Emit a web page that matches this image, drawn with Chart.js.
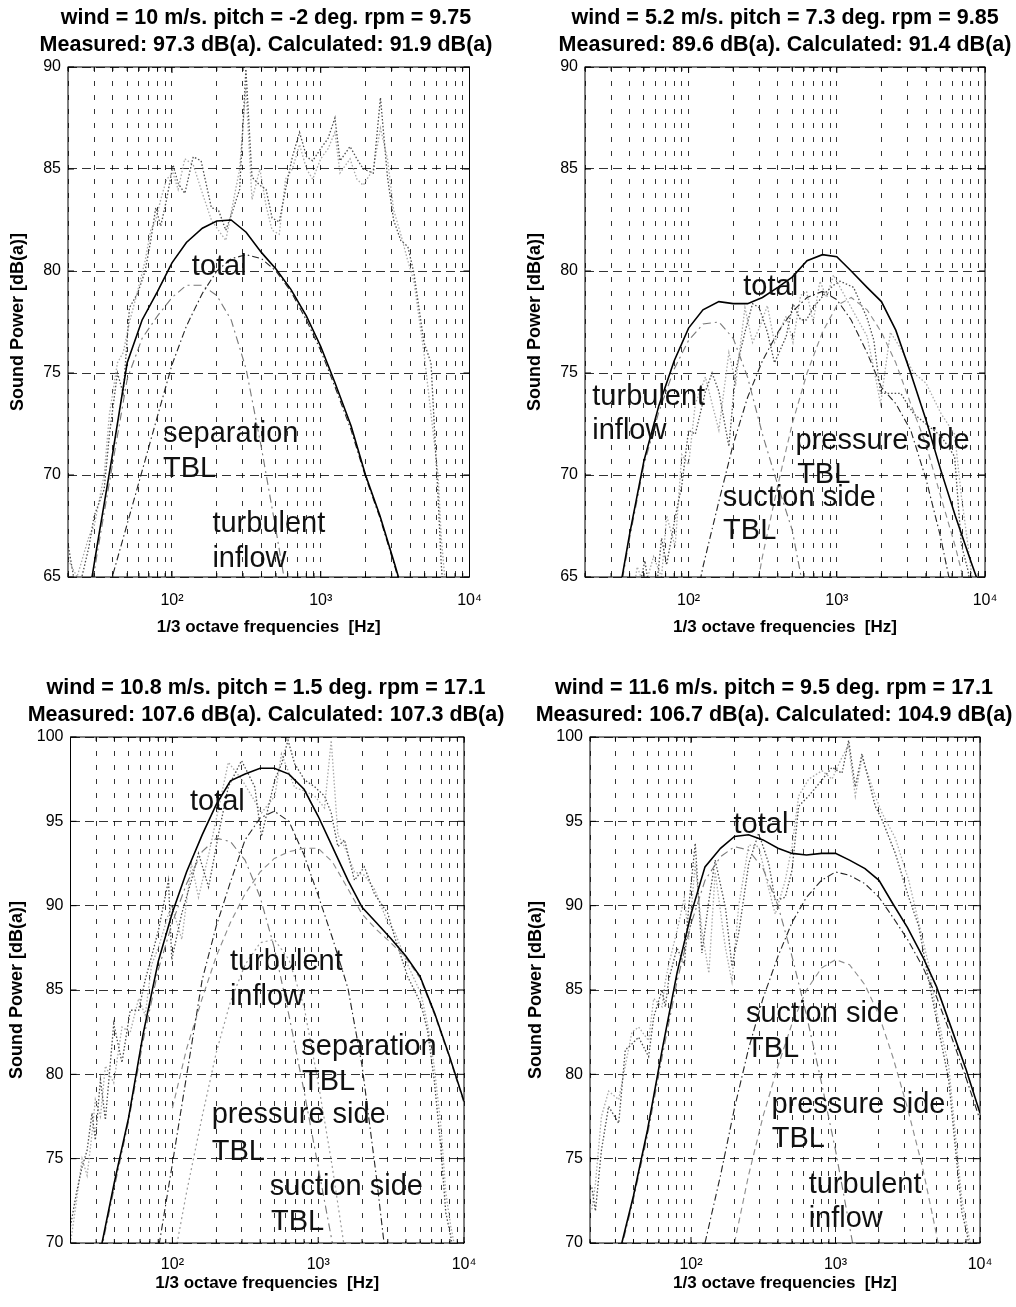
<!DOCTYPE html>
<html><head><meta charset="utf-8">
<script src="https://cdn.jsdelivr.net/npm/chart.js@4.4.1/dist/chart.umd.min.js"></script>
<style>
html,body{margin:0;padding:0;background:#fff;overflow:hidden;width:1016px;height:1307px;position:relative}
canvas{position:absolute}
</style></head><body>
<canvas id="c0"></canvas><canvas id="c1"></canvas><canvas id="c2"></canvas><canvas id="c3"></canvas>
<script>
// ---------- shared axis values ----------
const freqs = [20,25,31.5,40,50,63,80,100,125,160,200,250,315,400,500,630,800,1000,1250,1600,2000,2500,3150,4000,5000,6300,8000,10000];
const xGridValues = [20,30,40,50,60,70,80,90,100,200,300,400,500,600,700,800,900,1000,2000,3000,4000,5000,6000,7000,8000,9000,10000];
const xTickLabels = {100:'10²',1000:'10³',10000:'10⁴'};

// ---------- panel 1: wind 10 m/s ----------
const tlTotal      = [57.7,62.1,66.6,71.1,75.5,77.6,79.0,80.4,81.4,82.1,82.45,82.5,81.9,80.9,80.1,79.1,77.8,76.3,74.5,72.4,70.0,68.0,65.6,63.0,60.5,58,null,null];
const tlSeparation = [null,null,62.4,65.1,67.6,70.2,72.9,75.4,77.3,78.9,80.0,80.6,80.8,80.6,80.0,79.0,77.6,76.1,74.3,72.2,69.9,67.9,65.5,62.8,60.2,null,null,null];
const tlInflow     = [57,61.6,66.2,70.6,74.7,76.7,77.8,78.7,79.3,79.3,78.8,77.6,75.2,71.3,67.3,63.0,58.5,null,null,null,null,null,null,null,null,null,null,null];
const tlMeasFreq = [19.6,23,27.7,30,35,38,43,47,51.8,58.7,66,72,77.8,84,92,101.6,110,122,139,157,184,205,230,252,285,314,345,390,429,471,526,580,645,720,803,883,1000,1120,1246,1347,1574,1750,1930,2258,2520,2810,3090,3450,3850,4230,4940,5510,6150,6450,7000];
const tlMeasA = [67,64,66.5,68,69.3,72,75,74,78.2,78.9,80,81.5,83.1,82.2,83.5,85.2,84.3,83.8,85.6,85.4,83.1,83.0,82.0,82.8,84,89.9,84.6,84.2,84.0,82.6,82.4,84,85.6,86.8,85.6,85.4,86,86.5,87.5,85.4,86.1,85.5,85,84.8,88.5,84.6,82.5,81.5,81.2,79.9,76.5,75.5,68.9,65.7,62];
const tlMeasB = [66,65,67,67.5,70,73,75.5,76,77.5,79,80.5,82,82.5,83.5,84.5,84.8,84,85.5,85.2,84,82.5,82,81.5,83,85,89,83.5,85,83.2,82,81.8,84.5,85,86.2,85,84.5,85.5,86,86.8,84.8,85.5,84.5,84.2,85,87,85.5,83,81.8,80.5,79.5,76,73,70,67,64];

// ---------- panel 2: wind 5.2 m/s ----------
const trTotal    = [54.7,58.7,62.8,67.1,70.7,73.4,75.6,77.2,78.1,78.5,78.4,78.4,78.7,79.2,79.7,80.5,80.8,80.7,80.0,79.2,78.5,77.1,75.0,72.7,70.3,68.0,65.8,63.8];
const trInflow   = [54.5,58.5,62.6,66.9,70.5,73.1,75.2,76.6,77.4,77.5,76.7,74.8,72.0,69.5,67.3,63.5,59,null,null,null,null,null,null,null,null,null,null,null];
const trSuction  = [null,null,null,null,null,null,null,62,65.5,68.7,71.5,73.8,75.6,77.0,78.0,78.7,79.0,78.6,77.6,76.0,74.3,73.5,72.2,69.8,67.0,63.5,60,null];
const trPressure = [null,null,null,null,null,null,null,null,null,null,null,62,66,69.5,72.5,75,77,78.3,78.7,78.1,77.0,75.5,73.5,71.5,69.0,66.5,63.5,60];
const trMeasFreq = [40,45,50.7,58,65.7,71.1,81.1,90,100,111,130,144,160,187,208,240,270,300,340,380,456,506,570,625,692,770,855,950,1052,1297,1600,1778,1974,2300,2702,3300,4000,5060,6240,6920,7690,8500];
const trMeasA = [62,64,65.8,63,66.9,65.6,67.9,69.5,72.2,72.0,74.1,75.0,74.1,71.4,75.1,77.0,78.4,78.2,77.0,75.5,76.8,78.4,77.6,77.6,78.2,78.6,79.0,79.3,79.5,79.2,77.7,76.6,74.0,74.0,74.0,73.0,72.5,71.9,70.9,66.6,65.3,63];
const trMeasB = [63,65.5,64.5,66,65,68,66.5,71,70.5,73.5,74.8,73.5,72.2,76.0,74.5,78.2,76.5,77.2,78.3,76.5,77.8,76.5,78.8,79.0,77.5,79.5,78.7,79.8,79.2,78.0,76.8,75.2,73.5,77.0,76.2,75.0,74.5,73.0,72.0,69.0,66.5,64.0];

// ---------- panel 3: wind 10.8 m/s ----------
const blTotal      = [60.5,64.8,69.2,73.6,77.4,82.4,86.7,89.6,92.0,94.2,96.0,97.4,97.8,98.15,98.15,97.8,96.9,95.3,93.5,91.5,89.9,89.0,88.05,87.0,85.8,83.6,81.0,78.4];
const blSeparation = [null,null,null,null,58,63.8,69.6,74.7,79.9,85.6,88.8,91.4,93.9,95.2,95.6,95.0,93.0,90.6,88.1,85.1,80.5,74.0,66.5,58,null,null,null,null];
const blInflow     = [60,64.5,69,73.3,77.2,82.0,86.2,89.0,91.3,93.2,94.0,93.8,92.7,90.5,87.5,83.5,79.0,74.5,70,65,null,null,null,null,null,null,null,null];
const blPressure   = [null,null,null,null,null,null,null,78,81.5,84.5,87,89,90.7,92,92.8,93.2,93.4,93.4,92.6,91.0,89.5,88.6,87.8,86.9,85.7,83.5,80.9,78.3];
const blSuction    = [null,null,null,null,null,null,null,68.5,73,77.5,81.3,84.3,86.5,87.8,88.0,86.8,84.0,79.5,74.5,68.3,62,null,null,null,null,null,null,null];
const blMeasFreq = [20,22,24,26,28.1,29.6,32.1,34.7,39.6,45.1,51.4,58.7,65.1,72,80,94,99,116,135,151,177,210,242,298,367,408,504,560,621,690,808,945,1105,1228,1365,1515,1774,2075,2428,2999,3327,4106,5060,5620,6240,6930,7500,8110,9000];
const blMeasA = [71,73,74.5,75.5,77.7,76.1,79.7,77.3,83.0,80.7,83.8,83.8,85.6,87,88.5,91.5,86.8,89.55,91.5,93.1,91.1,94.5,97.05,98.6,97.05,94.1,97.45,98.4,99.8,98.4,97.45,97.05,96.5,95.5,93.5,93.9,91.5,92.3,90.7,89.55,88.2,85.8,84.2,82.6,79.7,75.7,71.8,70.4,68];
const blMeasB = [70,72.5,75,74,76.5,78.5,77.5,80.5,79.5,82.8,82.5,84.5,83.5,86.5,87.5,89.5,90,88,92.5,90.5,93,96,98.5,97.5,96.2,95.5,96.5,99.0,98.0,97.0,96.8,96.5,95.8,99.8,94.2,93.5,92.0,91.8,91.0,89.0,88.5,86.5,84.8,83,80.5,77,73,71,69];

// ---------- panel 4: wind 11.6 m/s ----------
const brTotal    = [62.2,65.6,69.2,72.8,76.7,81.4,86.0,89.5,92.3,93.4,94.1,94.2,93.9,93.4,93.1,93.0,93.1,93.1,92.7,92.2,91.5,90.1,88.7,87.0,85.2,82.8,80.3,77.7];
const brInflow   = [62,65.5,69,72.6,76.4,81.0,85.5,88.9,91.5,92.9,93.5,93.3,92.2,90.0,87.0,83.5,79.5,75.5,71,66,null,null,null,null,null,null,null,null];
const brSuction  = [null,null,null,null,null,null,null,null,70,74,78,81.5,84.5,87,89,90.5,91.5,92,91.8,91.3,90.5,89.3,88,86.4,84.6,82.3,79.8,77.3];
const brPressure = [null,null,null,null,null,null,null,null,null,null,70,74,77.5,80.5,83,85,86.3,86.8,86.5,85.3,83.5,81,78,74.5,70.5,66,null,null];
const brMeasFreq = [20.6,21.8,24,26.9,31.6,35.1,39,43.4,50.9,55.2,63,66.4,70.1,80,90,96.4,107,119,133,147,173,192,214,251,294,345,383,449,500,556,652,806,946,1109,1233,1371,1525,1884,2097,2594,3211,3764,4414,4908,6071,6745,7502,8123,9000];
const brMeasA = [73.3,71.9,75.5,78.1,77.1,81.45,81.8,82.2,81.05,83.4,85.0,84.0,85.6,87.5,86.5,89.9,93.7,87.2,90.3,92.7,89.9,86.4,88.4,92.5,94.3,92.5,90.3,90.5,92.1,95.9,96.5,97.45,98.2,97.85,99.8,97.05,99.0,95.9,95.1,93.1,90.5,88.8,85.6,83.6,79.7,75.7,71.8,70.6,68];
const brMeasB = [72,73.5,77.5,79,78.5,80.5,82.5,82.8,82,84.5,84,85.5,86.5,88.5,90.5,88,92.5,88.5,86,92,87.5,85.5,90,93.6,93.5,91,89.5,91.5,93.5,96.5,97.5,98,97.5,98.8,99.5,96.5,98.8,96.5,95.5,94,91.5,89,86.5,84,80.5,76.5,72.5,71,69];

// ---------- styles ----------
const FONT = '"Liberation Sans", Arial, Helvetica, sans-serif';
const STY = {
  total:   {color:'#000', width:1.6, dash:[]},
  dashdot: {color:'#222', width:1.1, dash:[7,3,1.5,3]},
  inflow:  {color:'#777', width:1.1, dash:[8,4,2,4]},
  dashed:  {color:'#8a8a8a', width:1.1, dash:[6,4]},
  dotted:  {color:'#9a9a9a', width:1.2, dash:[2,3]},
  measA:   {color:'#4a4a4a', width:1.3, dash:[1.5,2]},
  measB:   {color:'#a8a8a8', width:1.3, dash:[1.5,2]}
};
function ds(label, xs, ys, s) {
  const pts = [];
  xs.forEach((f, i) => { if (ys[i] !== null && ys[i] !== undefined) pts.push({x: f, y: ys[i]}); });
  return {label, data: pts, borderColor: STY[s].color, borderWidth: STY[s].width, borderDash: STY[s].dash,
          pointRadius: 0, fill: false, tension: 0, spanGaps: false, yAxisID: 'y'};
}

const panels = [
  { id:'c0', title:['wind = 10 m/s. pitch = -2 deg. rpm = 9.75','Measured: 97.3 dB(a). Calculated: 91.9 dB(a)'],
    ymin:65, ymax:90,
    geo:{cLeft:0, cTop:0, cH:653, aL:68, aR:469.5, aT:67, aB:577, t1:18, tCX:266, yTitleX:18, xTitleY:627, xPad:14},
    datasets:[
      ds('total', freqs, tlTotal, 'total'),
      ds('separation TBL', freqs, tlSeparation, 'dashdot'),
      ds('turbulent inflow', freqs, tlInflow, 'inflow'),
      ds('measured 1', tlMeasFreq, tlMeasA, 'measA'),
      ds('measured 2', tlMeasFreq, tlMeasB, 'measB')],
    labels:[{text:'total', f:136, v:79.8},{text:'separation', f:87, v:71.6},{text:'TBL', f:87, v:69.9},
            {text:'turbulent', f:187, v:67.2},{text:'inflow', f:187, v:65.5}] },
  { id:'c1', title:['wind = 5.2 m/s. pitch = 7.3 deg. rpm = 9.85','Measured: 89.6 dB(a). Calculated: 91.4 dB(a)'],
    ymin:65, ymax:90,
    geo:{cLeft:516, cTop:0, cH:653, aL:585, aR:985, aT:67, aB:577, t1:18, tCX:785, yTitleX:535, xTitleY:627, xPad:14},
    datasets:[
      ds('total', freqs, trTotal, 'total'),
      ds('suction side TBL', freqs, trSuction, 'dashdot'),
      ds('pressure side TBL', freqs, trPressure, 'dashed'),
      ds('turbulent inflow', freqs, trInflow, 'inflow'),
      ds('measured 1', trMeasFreq, trMeasA, 'measA'),
      ds('measured 2', trMeasFreq, trMeasB, 'measB')],
    labels:[{text:'total', f:234, v:78.8},{text:'turbulent', f:22.4, v:73.45},{text:'inflow', f:22.4, v:71.76},
            {text:'pressure side', f:527, v:71.27},{text:'TBL', f:540, v:69.63},
            {text:'suction side', f:170, v:68.49},{text:'TBL', f:171, v:66.85}] },
  { id:'c2', title:['wind = 10.8 m/s. pitch = 1.5 deg. rpm = 17.1','Measured: 107.6 dB(a). Calculated: 107.3 dB(a)'],
    ymin:70, ymax:100,
    geo:{cLeft:0, cTop:653, cH:654, aL:70.5, aR:464, aT:737, aB:1243, t1:688, tCX:266, yTitleX:17, xTitleY:1283, xPad:12},
    datasets:[
      ds('total', freqs, blTotal, 'total'),
      ds('separation TBL', freqs, blSeparation, 'dashdot'),
      ds('turbulent inflow', freqs, blInflow, 'inflow'),
      ds('pressure side TBL', freqs, blPressure, 'dashed'),
      ds('suction side TBL', freqs, blSuction, 'dotted'),
      ds('measured 1', blMeasFreq, blMeasA, 'measA'),
      ds('measured 2', blMeasFreq, blMeasB, 'measB')],
    labels:[{text:'total', f:132, v:95.67},{text:'turbulent', f:248, v:86.19},{text:'inflow', f:248, v:84.1},
            {text:'separation', f:766, v:81.15},{text:'TBL', f:775, v:79.07},
            {text:'pressure side', f:186, v:77.1},{text:'TBL', f:186, v:74.93},
            {text:'suction side', f:466, v:72.85},{text:'TBL', f:475, v:70.78}] },
  { id:'c3', title:['wind = 11.6 m/s. pitch = 9.5 deg. rpm = 17.1','Measured: 106.7 dB(a). Calculated: 104.9 dB(a)'],
    ymin:70, ymax:100,
    geo:{cLeft:520, cTop:653, cH:654, aL:590, aR:980, aT:737, aB:1243, t1:688, tCX:774, yTitleX:536, xTitleY:1283, xPad:12},
    datasets:[
      ds('total', freqs, brTotal, 'total'),
      ds('suction side TBL', freqs, brSuction, 'dashdot'),
      ds('pressure side TBL', freqs, brPressure, 'dashed'),
      ds('turbulent inflow', freqs, brInflow, 'inflow'),
      ds('measured 1', brMeasFreq, brMeasA, 'measA'),
      ds('measured 2', brMeasFreq, brMeasB, 'measB')],
    labels:[{text:'total', f:197, v:94.29},{text:'suction side', f:240, v:83.13},{text:'TBL', f:240, v:81.05},
            {text:'pressure side', f:360, v:77.69},{text:'TBL', f:362, v:75.71},
            {text:'turbulent', f:652, v:72.95},{text:'inflow', f:652, v:70.97}] }
];

const framePlugin = {
  id: 'frame',
  afterDatasetsDraw(chart, args, opts) {
    const {ctx, chartArea: a} = chart;
    const x = chart.scales.x, y = chart.scales.y;
    ctx.save();
    ctx.setLineDash([]);
    ctx.strokeStyle = '#000';
    ctx.lineWidth = 1;
    ctx.strokeRect(a.left, a.top, a.right - a.left, a.bottom - a.top);
    ctx.beginPath();
    x.ticks.forEach(t => {
      const px = x.getPixelForValue(t.value);
      const len = xTickLabels[t.value] ? 6 : 4;
      ctx.moveTo(px, a.bottom); ctx.lineTo(px, a.bottom - len);
      ctx.moveTo(px, a.top); ctx.lineTo(px, a.top + len);
    });
    y.ticks.forEach(t => {
      const py = y.getPixelForValue(t.value);
      ctx.moveTo(a.left, py); ctx.lineTo(a.left + 6, py);
      ctx.moveTo(a.right, py); ctx.lineTo(a.right - 6, py);
    });
    ctx.stroke();
    ctx.fillStyle = '#111';
    ctx.font = '29px ' + FONT;
    ctx.textAlign = 'left';
    ctx.textBaseline = 'alphabetic';
    (opts.labels || []).forEach(l => ctx.fillText(l.text, x.getPixelForValue(l.f), y.getPixelForValue(l.v)));
    ctx.restore();
  }
};

panels.forEach(p => {
  const g = p.geo;
  const yW = g.aL - g.cLeft;                       // left axis band
  const W = Math.round(2 * (g.tCX - g.cLeft));     // canvas centred on the title
  const rightW = Math.max(0, g.cLeft + W - g.aR);  // empty right band
  const titleLH = 27, titleSize = 21.5;
  const tPadTop = g.t1 - g.cTop - titleLH / 2;
  const tPadBottom = (g.aT - g.cTop) - tPadTop - 2 * titleLH;
  const xH = g.cTop + g.cH - g.aB;
  const xTitleLH = 17 * 1.2;
  const xTitlePadB = (g.cTop + g.cH) - g.xTitleY - xTitleLH / 2;
  const yTitleLH = 18 * 1.2;
  const yTitlePadT = (g.yTitleX - g.cLeft) - yTitleLH / 2;

  const cv = document.getElementById(p.id);
  cv.width = W; cv.height = g.cH;
  cv.style.left = g.cLeft + 'px'; cv.style.top = g.cTop + 'px';
  cv.style.width = W + 'px'; cv.style.height = g.cH + 'px';

  new Chart(cv, {
    type: 'line',
    data: { datasets: p.datasets },
    plugins: [framePlugin],
    options: {
      responsive: false, animation: false, devicePixelRatio: 1,
      layout: { padding: 0 },
      plugins: {
        legend: { display: false }, tooltip: { enabled: false },
        title: { display: true, text: p.title, color: '#000',
                 font: { family: FONT, size: titleSize, weight: 'bold', lineHeight: titleLH / titleSize },
                 padding: { top: tPadTop, bottom: tPadBottom } },
        frame: { labels: p.labels }
      },
      scales: {
        x: {
          type: 'logarithmic', min: 20, max: 10000, bounds: 'data',
          afterBuildTicks: s => { s.ticks = xGridValues.map(v => ({ value: v })); },
          afterFit: s => { s.height = xH; },
          ticks: { autoSkip: false, maxRotation: 0, minRotation: 0, padding: g.xPad, color: '#000',
                   font: { family: FONT, size: 16 },
                   callback: v => xTickLabels[v] || '' },
          grid: { color: 'rgba(0,0,0,0.8)', lineWidth: 1, drawTicks: false },
          border: { display: false, dash: [5, 9] },
          title: { display: true, text: '1/3 octave frequencies  [Hz]', color: '#000',
                   font: { family: FONT, size: 17, weight: 'bold' }, padding: { top: 0, bottom: xTitlePadB } }
        },
        y: {
          type: 'linear', position: 'left', min: p.ymin, max: p.ymax,
          afterFit: s => { s.width = yW; },
          ticks: { stepSize: 5, padding: 7, color: '#000', font: { family: FONT, size: 16 } },
          grid: { color: 'rgba(0,0,0,0.8)', lineWidth: 1, drawTicks: false },
          border: { display: false, dash: [9, 5] },
          title: { display: true, text: 'Sound Power [dB(a)]', color: '#000',
                   font: { family: FONT, size: 18, weight: 'bold' }, padding: { top: yTitlePadT, bottom: 0 } }
        },
        yRight: {
          type: 'linear', position: 'right', min: p.ymin, max: p.ymax,
          afterFit: s => { s.width = rightW; },
          ticks: { display: false },
          grid: { display: false, drawOnChartArea: false, drawTicks: false },
          border: { display: false },
          title: { display: false }
        }
      }
    }
  });
});
</script>
</body></html>
